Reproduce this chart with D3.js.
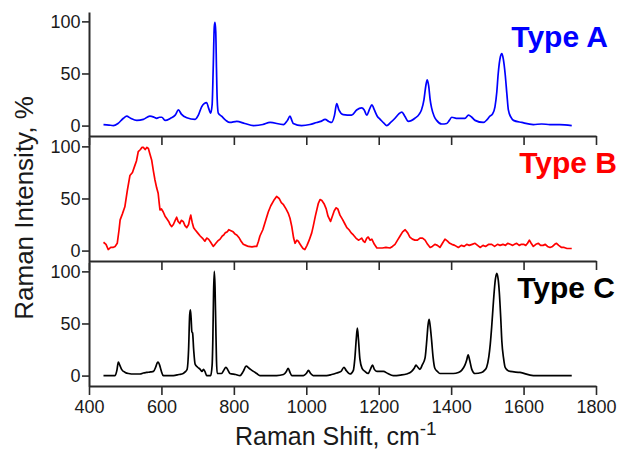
<!DOCTYPE html>
<html><head><meta charset="utf-8">
<script src="https://cdn.jsdelivr.net/npm/d3@7/dist/d3.min.js"></script>
<style>
html,body{margin:0;padding:0;background:#fff;}
svg{display:block;font-family:"Liberation Sans",Arial,sans-serif;}
</style></head>
<body>
<svg id="chart" width="622" height="449"></svg>
<script>
// ---- data: [Raman shift (cm-1), intensity (%)] ----
const typeA = [[440,1],[455,0.5],[467,0],[480,2],[495,7],[504,9],[515,7],[532,5],[550,6],[568,9],[580,8],[587,7],[595,8],[601,8],[610,5],[625,7],[638,10],[647,15],[655,11],[670,7.5],[693,6],[702,10],[711,18],[718,21],[725,22],[730,17],[736,12],[740,20],[743,55],[746,95],[748,99],[750,90],[752,55],[754,25],[757,12],[766,9],[778,5],[789,3],[808,4],[830,2],[854,0],[880,1],[900,3],[937,1],[948,5],[955,9],[960,5],[964,2],[987,0],[1010,1],[1029,3],[1040,4],[1052,6],[1062,4],[1070,3],[1078,10],[1084,21],[1090,15],[1102,10.5],[1125,10],[1139,15],[1153,17],[1160,15],[1167,10],[1175,16],[1181,20],[1188,15],[1196,9],[1204,6],[1215,2],[1222,0],[1233,3],[1245,7],[1255,11],[1264,13],[1272,9],[1282,4],[1300,7],[1312,11],[1318,15],[1325,25],[1330,38],[1334,44],[1338,38],[1342,25],[1346,17],[1353,9],[1360,5],[1374,1.5],[1388,2],[1395,5],[1402,8],[1414,7],[1425,7],[1438,7],[1448,10],[1457,8],[1466,5],[1489,3],[1500,6],[1507,9],[1514,11],[1521,18],[1526,32],[1530,50],[1536,66],[1540,69],[1544,64],[1549,50],[1554,30],[1558,15],[1565,8],[1572,5],[1595,3],[1627,1],[1650,1.5],[1673,1],[1700,1],[1733,0]];

const typeB = [[440,8],[447,6],[453,1],[460,3],[466,3],[472,4],[478,7],[483,20],[486,29.5],[492,35],[499,42],[506,58],[513,72],[520,75],[527,82],[531,86],[536,95],[542,97],[546,99],[550,99],[555,97],[560,99],[564,98],[568,93],[573,87],[578,76],[582,68],[587,60],[591,55],[594,45],[596,39],[600,40],[605,37],[610,33],[614,31],[620,28],[624,25],[628,23],[633,25],[638,29],[642,32],[646,28],[651,26],[655,29],[660,28],[665,24],[670,22],[675,25],[678,30],[681,34],[685,27],[689,22],[693,20],[700,17],[707,14],[713,12],[720,9],[725,12],[730,11],[736,8],[743,4],[748,6],[755,9],[762,11],[768,14],[772,15],[776,17],[782,18],[786,20],[792,19],[798,18],[803,16],[808,15],[815,12],[820,9],[826,6],[833,5],[840,4],[850,3.5],[858,4],[863,4],[868,9],[872,14],[880,20],[888,29],[895,37],[902,43],[910,48],[918,52],[925,50],[931,46],[937,44],[944,40],[950,36],[955,31],[960,23],[965,12],[969,7],[974,10],[978,9],[983,6],[987,4],[991,2],[996,1],[1002,5],[1008,10],[1015,17],[1019,23],[1025,33],[1033,45],[1038,49],[1043,48],[1049,45],[1055,40],[1060,33],[1067,28],[1072,33],[1077,38],[1082,41],[1087,40],[1093,34],[1100,30],[1106,26],[1112,22],[1118,20],[1124,17],[1130,15],[1137,12],[1144,10],[1149,11],[1153,12],[1158,9],[1162,8],[1167,12],[1171,13],[1176,10],[1181,11],[1188,6],[1195,2.5],[1210,2.5],[1220,3],[1231,2.5],[1238,4],[1245,6],[1252,10],[1259,14],[1266,18],[1273,20],[1280,17],[1286,13],[1293,11],[1300,10],[1307,10],[1314,12],[1321,12],[1328,10],[1335,6],[1342,3],[1348,4],[1355,6],[1362,5],[1369,3],[1376,7],[1383,11],[1390,9],[1396,7],[1402,6],[1410,5],[1420,3],[1428,5],[1436,4],[1443,6],[1450,5],[1458,6],[1466,7],[1473,5],[1480,3],[1488,5],[1495,4],[1504,6],[1512,6],[1520,4],[1528,6],[1535,5],[1543,6],[1550,5],[1556,7],[1563,6],[1570,5],[1575,6],[1581,7],[1588,5],[1594,6],[1600,6],[1606,5],[1611,7],[1616,10],[1621,7],[1627,4],[1634,6],[1641,7],[1647,5],[1654,5],[1660,6],[1666,4],[1673,3],[1680,4],[1686,6],[1691,7],[1697,5],[1705,3],[1712,3],[1720,2],[1733,2]];

const typeC = [[440,0],[472,0],[477,5],[481,13],[485,10],[490,6],[500,3],[509,2],[525,1.5],[541,1.5],[550,2.5],[559,3],[570,3.5],[578,4],[584,8],[588,12],[591,13],[595,10],[600,4],[605,0],[620,0],[633,0],[648,1],[660,2],[667,4],[671,6],[675,25],[678,58],[680,63],[682,55],[684,42],[686,41],[689,25],[693,11],[700,8],[707,6],[712,4],[716,6],[720,4],[725,0],[736,0],[740,10],[742,35],[744,80],[746,100],[748,85],[750,50],[752,15],[754,2],[766,2],[772,5],[778,8],[784,5],[789,2],[805,1],[817,0],[826,4],[834,9],[842,7],[854,4],[863,2],[872,0],[918,0],[937,1],[945,4],[950,7],[955,3],[960,0],[992,0],[1000,2],[1006,5],[1012,2],[1019,0],[1056,0],[1070,1],[1084,2.5],[1096,4],[1104,8],[1110,5],[1121,1.5],[1130,5],[1134,16],[1138,35],[1141,45.5],[1144,35],[1148,16],[1154,7],[1162,4],[1171,2],[1177,6],[1183,10],[1188,6],[1195,4],[1213,4],[1225,2],[1240,0],[1260,0.5],[1277,1.5],[1291,4],[1298,7],[1303,10],[1308,8],[1314,6],[1320,10],[1328,17],[1333,35],[1336,48],[1339,54],[1342,48],[1346,34],[1350,18],[1355,7],[1362,4],[1369,2],[1406,2],[1420,3],[1429,5],[1438,10],[1443,15],[1447,20],[1451,15],[1457,6],[1466,2],[1484,3],[1492,5],[1498,8],[1504,18],[1508,30],[1512,47],[1517,72],[1522,92],[1526,98],[1530,92],[1533,80],[1537,55],[1540,33],[1545,16],[1549,8],[1556,5],[1563,4],[1590,3],[1627,0],[1682,0],[1733,0]];

const seriesNames = ["Type A", "Type B", "Type C"];
const seriesColors = ["#0000ff", "#ff0000", "#000000"];
const xTicks = [400, 600, 800, 1000, 1200, 1400, 1600, 1800];
const yTicks = [0, 50, 100];
const xTitle = "Raman Shift, cm";
const xTitleSup = "-1";
const yTitle = "Raman Intensity, %";

// ---- layout ----
const svg = d3.select("#chart");
const left = 89, right = 596;
const panels = [{top: 12, bottom: 136}, {top: 137, bottom: 261}, {top: 262, bottom: 386}];
const labelPos = [{x: 608, y: 47}, {x: 617, y: 173}, {x: 615, y: 298}];
const allData = [typeA, typeB, typeC];
const axisColor = "#2a2a2a";

const x = d3.scaleLinear().domain([400, 1800]).range([left, right]);

panels.forEach((p, i) => {
  const y = d3.scaleLinear().domain([-10, 109]).range([p.bottom, p.top]);

  // x axis (ticks pointing down, labels only on bottom panel)
  const xa = svg.append("g").attr("transform", `translate(0,${p.bottom})`)
    .call(d3.axisBottom(x).tickValues(xTicks).tickSize(9).tickSizeOuter(0).tickPadding(5)
      .tickFormat(i === 2 ? d3.format("d") : () => ""));
  xa.select(".domain").attr("stroke", axisColor).attr("stroke-width", 2);
  xa.selectAll(".tick line").attr("stroke", axisColor).attr("stroke-width", 1.6);
  xa.selectAll("text").attr("font-size", 18).attr("fill", "#1a1a1a")
    .attr("font-family", "Liberation Sans, Arial, sans-serif");

  // y axis
  const ya = svg.append("g").attr("transform", `translate(${left},0)`)
    .call(d3.axisLeft(y).tickValues(yTicks).tickSize(7).tickSizeOuter(0).tickPadding(1.5));
  ya.select(".domain").attr("stroke", axisColor).attr("stroke-width", 2);
  ya.selectAll(".tick line").attr("stroke", axisColor).attr("stroke-width", 1.6);
  ya.selectAll("text").attr("font-size", 18).attr("fill", "#1a1a1a")
    .attr("font-family", "Liberation Sans, Arial, sans-serif");

  // spectrum line
  const line = d3.line().x(d => x(d[0])).y(d => y(d[1]))
    .curve(i === 1 ? d3.curveLinear : d3.curveMonotoneX);
  svg.append("path").datum(allData[i])
    .attr("fill", "none").attr("stroke", seriesColors[i])
    .attr("stroke-width", 1.7).attr("stroke-linejoin", "round")
    .attr("d", line);

  // series label
  svg.append("text").attr("x", labelPos[i].x).attr("y", labelPos[i].y)
    .attr("text-anchor", "end").attr("font-size", 30).attr("font-weight", "bold")
    .attr("fill", seriesColors[i]).text(seriesNames[i]);
});

// axis titles
const xt = svg.append("text").attr("x", 235).attr("y", 445)
  .attr("font-size", 25).attr("fill", "#1a1a1a");
xt.append("tspan").text(xTitle);
xt.append("tspan").attr("font-size", 19).attr("dy", -10).text(xTitleSup);

svg.append("text").attr("transform", "translate(33,208) rotate(-90)")
  .attr("text-anchor", "middle").attr("font-size", 26).attr("fill", "#1a1a1a")
  .text(yTitle);
</script>
</body></html>
